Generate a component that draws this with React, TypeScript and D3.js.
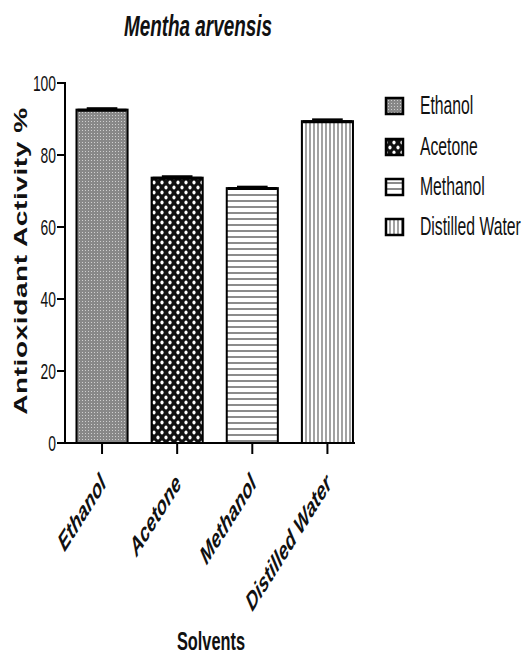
import React, { useEffect, useRef } from 'react';
import * as d3 from 'd3';

const solvents = ['Ethanol', 'Acetone', 'Methanol', 'Distilled Water'];
const activity = [92.6, 73.7, 70.8, 89.4];
const errors = [0.4, 0.4, 0.4, 0.5];
const yTicks = [0, 20, 40, 60, 80, 100];
const patternIds = ['pEthanol', 'pAcetone', 'pMethanol', 'pWater'];

const SQ = 0.63; // the source figure is squeezed horizontally
const FONT = '"Liberation Sans", Arial, sans-serif';

const App = () => {
  const svgRef = useRef(null);

  useEffect(() => {
    const svg = d3.select(svgRef.current);
    svg.selectAll('*').remove();

    const left = 65, right = 355, top = 83, bottom = 443;

    const x = d3.scaleBand()
      .domain(solvents)
      .range([left, right])
      .paddingInner(0.32)
      .paddingOuter(0.09)
      .align(0.85);

    const y = d3.scaleLinear().domain([0, 100]).range([bottom, top]);

    // fill patterns
    const defs = svg.append('defs');
    const pat = (id, w, h) => defs.append('pattern')
      .attr('id', id)
      .attr('patternUnits', 'userSpaceOnUse')
      .attr('width', w)
      .attr('height', h);

    const p1 = pat(patternIds[0], 3, 3);
    p1.append('rect').attr('width', 3).attr('height', 3).attr('fill', '#888');
    p1.append('rect').attr('x', 1).attr('y', 1).attr('width', 1).attr('height', 1).attr('fill', '#cfcfcf');

    const p2 = pat(patternIds[1], 8, 10);
    p2.append('rect').attr('width', 8).attr('height', 10).attr('fill', '#111');
    p2.append('ellipse').attr('cx', 2).attr('cy', 2.5).attr('rx', 1.6).attr('ry', 2).attr('fill', '#fff');
    p2.append('ellipse').attr('cx', 6).attr('cy', 7.5).attr('rx', 1.6).attr('ry', 2).attr('fill', '#fff');

    const p3 = pat(patternIds[2], 6, 6);
    p3.append('rect').attr('width', 6).attr('height', 6).attr('fill', '#fff');
    p3.append('line').attr('x1', 0).attr('x2', 6).attr('y1', 3).attr('y2', 3)
      .attr('stroke', '#6e6e6e').attr('stroke-width', 1.6);

    const p4 = pat(patternIds[3], 4, 4);
    p4.append('rect').attr('width', 4).attr('height', 4).attr('fill', '#fff');
    p4.append('line').attr('x1', 2).attr('x2', 2).attr('y1', 0).attr('y2', 4)
      .attr('stroke', '#8a8a8a').attr('stroke-width', 1.6);

    // squeezed text helper
    const text = (tx, ty, str, size, opts = {}) => svg.append('text')
      .attr('transform', `translate(${tx},${ty}) scale(${SQ},1)${opts.rotate ? ` rotate(${opts.rotate})` : ''}`)
      .attr('font-family', FONT)
      .attr('font-size', size)
      .attr('font-weight', opts.bold ? 'bold' : 'normal')
      .attr('font-style', opts.italic ? 'italic' : 'normal')
      .attr('text-anchor', opts.anchor || 'start')
      .attr('fill', '#111')
      .text(str);

    // title
    text(198, 36, 'Mentha arvensis', 30, { bold: true, italic: true, anchor: 'middle' });

    // bars
    svg.append('g')
      .selectAll('rect')
      .data(solvents)
      .join('rect')
      .attr('x', d => x(d))
      .attr('y', (d, i) => y(activity[i]))
      .attr('width', x.bandwidth())
      .attr('height', (d, i) => bottom - y(activity[i]))
      .attr('fill', (d, i) => `url(#${patternIds[i]})`)
      .attr('stroke', '#000')
      .attr('stroke-width', 2);

    // error bars (upper only, as in the figure)
    svg.append('g')
      .selectAll('line')
      .data(solvents)
      .join('line')
      .attr('x1', d => x(d) + 1)
      .attr('x2', d => x(d) + x.bandwidth() - 1)
      .attr('y1', (d, i) => y(activity[i]) + 0.5)
      .attr('y2', (d, i) => y(activity[i]) + 0.5)
      .attr('stroke', '#000')
      .attr('stroke-width', 3);
    svg.append('g')
      .selectAll('line')
      .data(solvents)
      .join('line')
      .attr('x1', d => x(d) + x.bandwidth() * 0.2)
      .attr('x2', d => x(d) + x.bandwidth() * 0.8)
      .attr('y1', (d, i) => y(activity[i] + errors[i]))
      .attr('y2', (d, i) => y(activity[i] + errors[i]))
      .attr('stroke', '#000')
      .attr('stroke-width', 2);

    // y axis
    svg.append('line')
      .attr('x1', left).attr('x2', left).attr('y1', top - 1).attr('y2', bottom + 1)
      .attr('stroke', '#000').attr('stroke-width', 2);
    yTicks.forEach(t => {
      svg.append('line')
        .attr('x1', left - 8).attr('x2', left).attr('y1', y(t)).attr('y2', y(t))
        .attr('stroke', '#000').attr('stroke-width', 2);
      text(left - 9, y(t) + 8, String(t), 22, { anchor: 'end' });
    });

    // x axis
    svg.append('line')
      .attr('x1', left - 1).attr('x2', right).attr('y1', bottom).attr('y2', bottom)
      .attr('stroke', '#000').attr('stroke-width', 2);
    solvents.forEach(s => {
      const cx = x(s) + x.bandwidth() / 2;
      svg.append('line')
        .attr('x1', cx).attr('x2', cx).attr('y1', bottom).attr('y2', bottom + 11)
        .attr('stroke', '#000').attr('stroke-width', 2);
      text(cx + 5, bottom + 42, s, 26, { bold: true, italic: true, anchor: 'end', rotate: -45 });
    });

    // axis titles
    text(27, 261, 'Antioxidant Activity %', 28, { bold: true, anchor: 'middle', rotate: -90 })
      .attr('letter-spacing', 0.6);
    text(211, 650, 'Solvents', 26, { bold: true, anchor: 'middle' });

    // legend
    const legendY = [106, 147, 187, 227];
    solvents.forEach((s, i) => {
      svg.append('rect')
        .attr('x', 386).attr('y', legendY[i] - 8)
        .attr('width', 17).attr('height', 16)
        .attr('fill', `url(#${patternIds[i]})`)
        .attr('stroke', '#000').attr('stroke-width', 2.5);
      text(420, legendY[i] + 8, s, 25);
    });
  }, []);

  return (
    <svg ref={svgRef} width={526} height={657}
      style={{ position: 'absolute', left: 0, top: 0, background: '#fff' }} />
  );
};

export default App;
